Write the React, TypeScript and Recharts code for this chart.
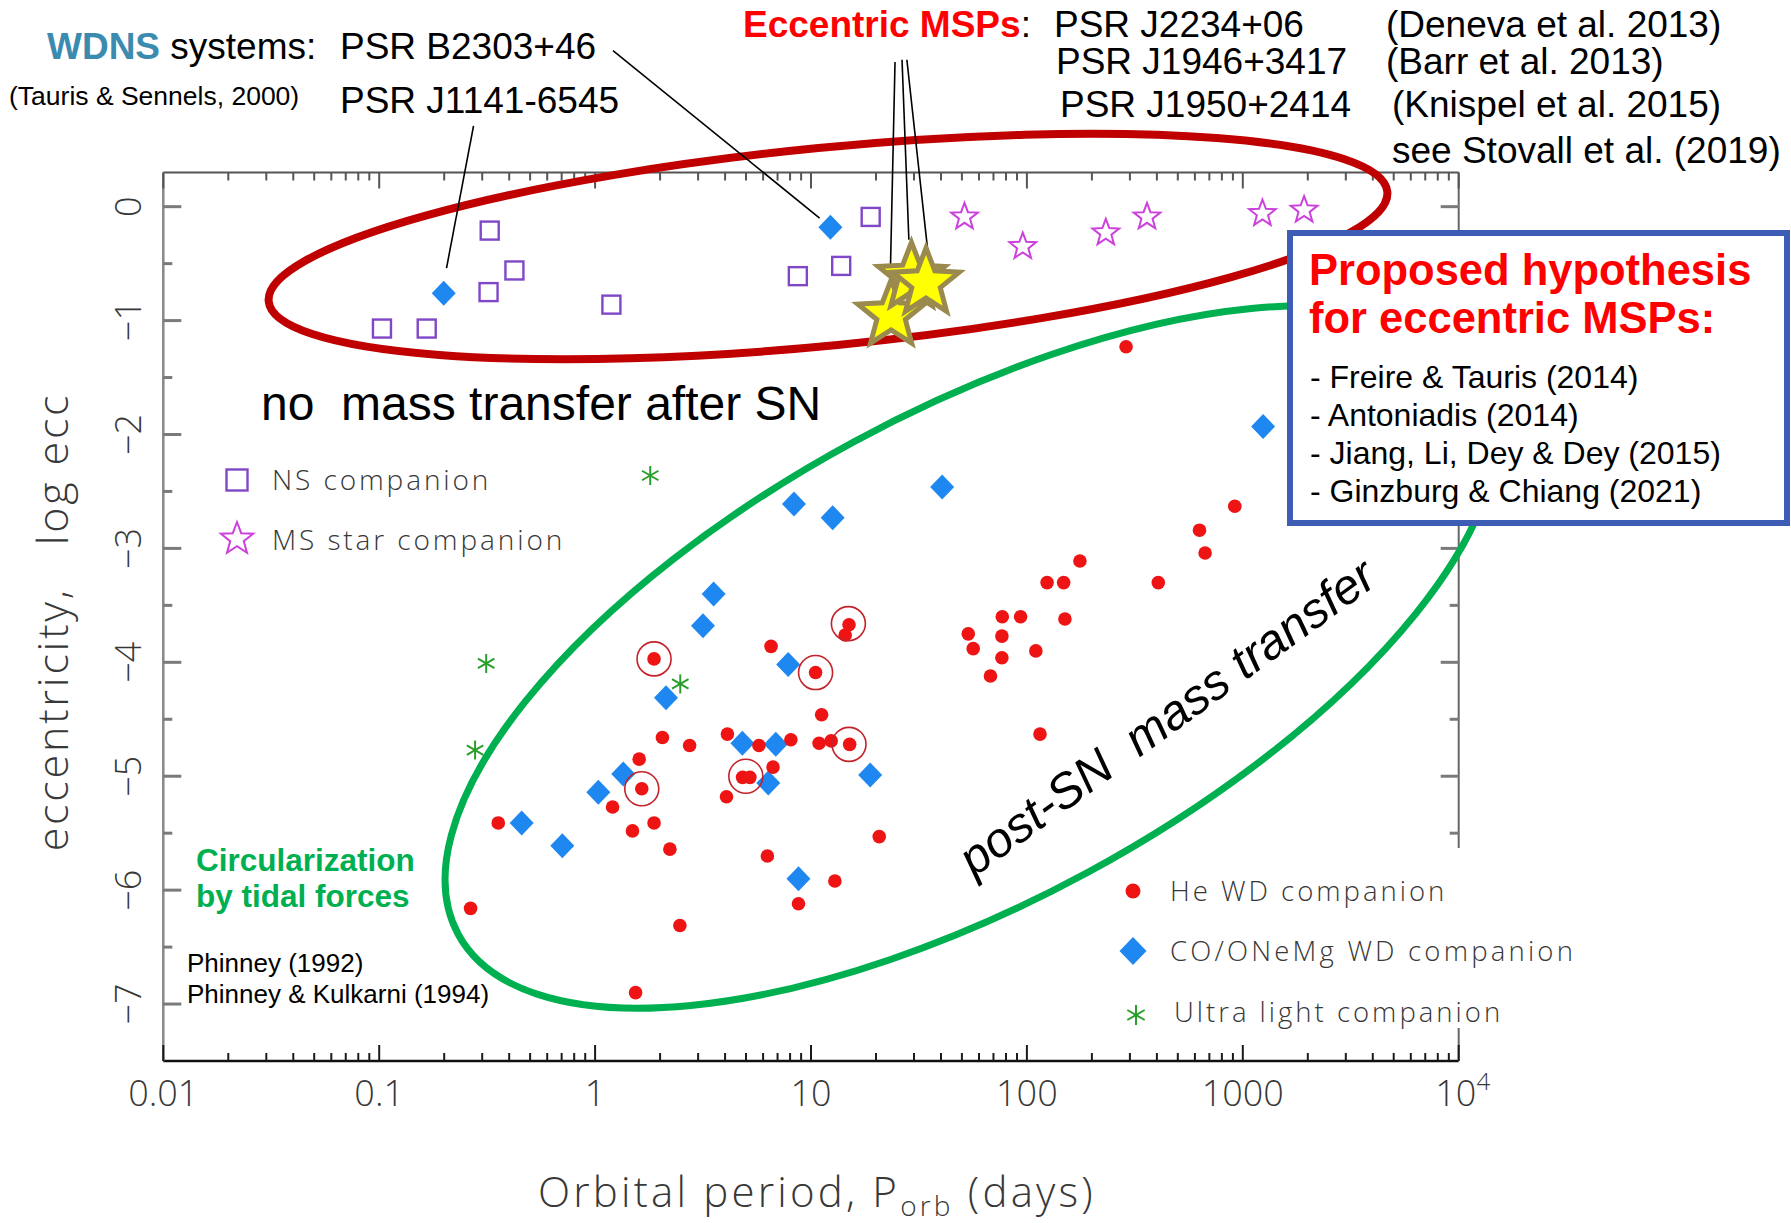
import React from 'react';
import { ScatterChart, Scatter, XAxis, YAxis, ReferenceLine } from 'recharts';

type Pt = { p: number; e: number };

// ---------- Data: orbital period (days) vs log10 eccentricity ----------
const nsCompanion: Pt[] = [
  { p: 0.325, e: -0.21 }, { p: 0.423, e: -0.56 }, { p: 0.321, e: -0.75 },
  { p: 1.19, e: -0.86 }, { p: 0.103, e: -1.07 }, { p: 0.166, e: -1.07 },
  { p: 8.69, e: -0.61 }, { p: 13.8, e: -0.52 }, { p: 18.9, e: -0.09 },
];

const msStarCompanion: Pt[] = [
  { p: 51.4, e: -0.09 }, { p: 95.7, e: -0.35 }, { p: 232, e: -0.23 },
  { p: 360, e: -0.09 }, { p: 1233, e: -0.06 }, { p: 1923, e: -0.03 },
];

const heWdCompanion: Pt[] = [
  { p: 288, e: -1.23 }, { p: 918, e: -2.63 }, { p: 630, e: -2.84 }, { p: 669, e: -3.04 },
  { p: 176, e: -3.11 }, { p: 124, e: -3.3 }, { p: 148, e: -3.3 }, { p: 406, e: -3.3 },
  { p: 76.9, e: -3.6 }, { p: 93.5, e: -3.6 }, { p: 150, e: -3.62 }, { p: 53.5, e: -3.75 },
  { p: 76.6, e: -3.77 }, { p: 56.4, e: -3.88 }, { p: 76.6, e: -3.96 }, { p: 110, e: -3.9 },
  { p: 67.8, e: -4.12 }, { p: 115, e: -4.63 }, { p: 20.7, e: -5.53 }, { p: 15.0, e: -3.67 },
  { p: 14.4, e: -3.76 }, { p: 6.53, e: -3.86 }, { p: 1.875, e: -3.97 }, { p: 10.5, e: -4.09 },
  { p: 11.2, e: -4.46 }, { p: 10.9, e: -4.71 }, { p: 12.4, e: -4.69 }, { p: 15.1, e: -4.72 },
  { p: 4.1, e: -4.63 }, { p: 5.74, e: -4.73 }, { p: 8.07, e: -4.68 }, { p: 2.74, e: -4.73 },
  { p: 2.05, e: -4.66 }, { p: 6.67, e: -4.92 }, { p: 4.82, e: -5.01 }, { p: 5.21, e: -5.01 },
  { p: 4.06, e: -5.18 }, { p: 1.6, e: -4.85 }, { p: 1.645, e: -5.11 }, { p: 1.205, e: -5.27 },
  { p: 1.875, e: -5.41 }, { p: 1.49, e: -5.48 }, { p: 2.22, e: -5.64 }, { p: 0.356, e: -5.41 },
  { p: 6.28, e: -5.7 }, { p: 12.9, e: -5.92 }, { p: 0.265, e: -6.16 }, { p: 8.75, e: -6.12 },
  { p: 2.47, e: -6.31 }, { p: 1.54, e: -6.9 },
];

// He WD systems marked with an open ring
const heWdRinged: Pt[] = [
  { p: 1.875, e: -3.97 }, { p: 14.9, e: -3.66 }, { p: 10.5, e: -4.09 },
  { p: 15.0, e: -4.72 }, { p: 4.99, e: -5.0 }, { p: 1.645, e: -5.11 },
];

const coOneMgCompanion: Pt[] = [
  { p: 0.199, e: -0.76 }, { p: 12.3, e: -0.18 }, { p: 1242, e: -1.93 }, { p: 40.5, e: -2.46 },
  { p: 8.34, e: -2.61 }, { p: 12.6, e: -2.73 }, { p: 3.54, e: -3.4 }, { p: 3.16, e: -3.68 },
  { p: 7.84, e: -4.02 }, { p: 2.13, e: -4.31 }, { p: 4.81, e: -4.71 }, { p: 6.87, e: -4.72 },
  { p: 6.34, e: -5.06 }, { p: 18.8, e: -4.99 }, { p: 1.35, e: -4.98 }, { p: 1.035, e: -5.14 },
  { p: 0.457, e: -5.41 }, { p: 0.705, e: -5.61 }, { p: 8.75, e: -5.9 },
];

const ultraLightCompanion: Pt[] = [
  { p: 1.8, e: -2.36 }, { p: 0.313, e: -4.01 }, { p: 2.48, e: -4.19 }, { p: 0.278, e: -4.77 },
];

// PSR J1950+2414, J1946+3417, J2234+06
const eccentricMsps: Pt[] = [
  { p: 23.5, e: -0.95 }, { p: 29.2, e: -0.62 }, { p: 34.1, e: -0.67 },
];

// Pointer lines from the pulsar names down to their points
const leaderLines: { from: Pt; to: Pt }[] = [
  { from: { p: 1.21, e: 1.37 }, to: { p: 10.96, e: -0.1 } },
  { from: { p: 0.2735, e: 0.71 }, to: { p: 0.205, e: -0.54 } },
  { from: { p: 24.5, e: 1.27 }, to: { p: 23.2, e: -0.76 } },
  { from: { p: 26.4, e: 1.29 }, to: { p: 28.4, e: -0.29 } },
  { from: { p: 27.8, e: 1.29 }, to: { p: 34.7, e: -0.38 } },
];

// ---------- Axes ----------
const PERIOD_DOMAIN: [number, number] = [0.01, 10000];
const ECC_DOMAIN: [number, number] = [-7.5, 0.3];
const periodDecades = [0.01, 0.1, 1, 10, 100, 1000, 10000];
const periodDecadeLabels = ['0.01', '0.1', '1', '10', '100', '1000', '10^4'];
const periodMinorSteps = [2, 3, 4, 5, 6, 7, 8, 9];
const eccMajorTicks = [0, -1, -2, -3, -4, -5, -6, -7];
const eccTickLabels = ['0', '\u22121', '\u22122', '\u22123', '\u22124', '\u22125', '\u22126', '\u22127'];
const eccMinorTicks = [-0.5, -1.5, -2.5, -3.5, -4.5, -5.5, -6.5];

const periodTicks: number[] = [];
periodDecades.forEach((d, i) => {
  periodTicks.push(d);
  if (i < periodDecades.length - 1) periodMinorSteps.forEach((m) => periodTicks.push(+(d * m).toPrecision(6)));
});
const eccTicks = [...eccMajorTicks, ...eccMinorTicks];

// ---------- Layout ----------
const WIDTH = 1791;
const HEIGHT = 1223;
const AXIS_W = 60;
const AXIS_H = 30;
const CHART_MARGIN = { top: 172.5 - AXIS_H, right: 332.3 - AXIS_W, bottom: 162 - AXIS_H, left: 163.3 - AXIS_W };

const GEO = "'Open Sans', 'DejaVu Sans', sans-serif";
const ARIAL = "'Liberation Sans', Arial, Helvetica, sans-serif";
const GEO_INK = '#383838';

const RED = '#ee1414';
const BLUE = '#1e88f0';
const PURPLE = '#8048c8';
const MAGENTA = '#cc40dc';
const GREEN_MARK = '#2a9e2a';

const decadeIndex = (v: number) => periodDecades.findIndex((d) => Math.abs(v / d - 1) < 1e-6);

function PeriodTick(props: any) {
  const { x, y, payload, side } = props;
  const i = decadeIndex(payload.value);
  const major = i >= 0;
  const len = major ? 16 : 8;
  const dir = side === 'bottom' ? -1 : 1;
  const label = major && side === 'bottom' ? periodDecadeLabels[i] : null;
  let labelEl = null;
  if (label) {
    if (label.includes('^')) {
      const [base, exp] = label.split('^');
      labelEl = (
        <text x={x + 4} y={y + 44.5} textAnchor="middle" fontFamily={GEO} fontWeight={300} fontSize={36} fill={GEO_INK}>
          {base}
          <tspan dy={-16} fontSize={24}>{exp}</tspan>
        </text>
      );
    } else {
      labelEl = (
        <text x={x} y={y + 44.5} textAnchor="middle" fontFamily={GEO} fontWeight={300} fontSize={36} fill={GEO_INK}>
          {label}
        </text>
      );
    }
  }
  return (
    <g>
      <line x1={x} y1={y} x2={x} y2={y + dir * len} stroke={side === 'bottom' ? '#1a1a1a' : '#555'} strokeWidth={2} />
      {labelEl}
    </g>
  );
}

function EccTick(props: any) {
  const { x, y, payload, side } = props;
  const i = eccMajorTicks.indexOf(payload.value);
  const major = i >= 0;
  const len = major ? 18 : 9;
  const dir = side === 'left' ? 1 : -1;
  return (
    <g>
      <line x1={x} y1={y} x2={x + dir * len} y2={y} stroke="#7a7a7a" strokeWidth={3} />
      {major && side === 'left' && (
        <text
          transform={`translate(${x - 22},${y}) rotate(-90)`}
          textAnchor="middle"
          fontFamily={GEO}
          fontWeight={300}
          fontSize={36}
          fill={GEO_INK}
        >
          {eccTickLabels[i]}
        </text>
      )}
    </g>
  );
}

// ---------- Marker shapes ----------
function starPoints(cx: number, cy: number, R: number, r: number) {
  const pts: string[] = [];
  for (let k = 0; k < 10; k++) {
    const a = -Math.PI / 2 + (k * Math.PI) / 5;
    const rad = k % 2 === 0 ? R : r;
    pts.push(`${(cx + rad * Math.cos(a)).toFixed(2)},${(cy + rad * Math.sin(a)).toFixed(2)}`);
  }
  return pts.join(' ');
}

const Dot = ({ cx, cy, r = 6.8 }: any) => <circle cx={cx} cy={cy} r={r} fill={RED} />;
const Ring = ({ cx, cy }: any) => <circle cx={cx} cy={cy} r={17} fill="none" stroke="#c4222a" strokeWidth={1.6} />;
const Diamond = ({ cx, cy, w = 12, h = 12.5 }: any) => (
  <polygon points={`${cx},${cy - h} ${cx + w},${cy} ${cx},${cy + h} ${cx - w},${cy}`} fill={BLUE} />
);
const OpenSquare = ({ cx, cy, s = 18 }: any) => (
  <rect x={cx - s / 2} y={cy - s / 2} width={s} height={s} fill="none" stroke={PURPLE} strokeWidth={2.4} />
);
const OpenStar = ({ cx, cy, R = 14 }: any) => (
  <polygon points={starPoints(cx, cy, R, R * 0.42)} fill="none" stroke={MAGENTA} strokeWidth={2} strokeLinejoin="miter" />
);
const Asterisk = ({ cx, cy, s = 9.5 }: any) => (
  <g stroke={GREEN_MARK} strokeWidth={2}>
    {[90, 30, 150].map((deg) => {
      const a = (deg * Math.PI) / 180;
      return (
        <line key={deg} x1={cx - s * Math.cos(a)} y1={cy - s * Math.sin(a)} x2={cx + s * Math.cos(a)} y2={cy + s * Math.sin(a)} />
      );
    })}
  </g>
);
const BigStar = ({ cx, cy }: any) => (
  <polygon points={starPoints(cx, cy, 35, 15)} fill="#ffff00" stroke="#9a8a4e" strokeWidth={5} strokeLinejoin="miter" />
);

function Axes({ visible }: { visible: boolean }) {
  const show = visible;
  return (
    <>
      <XAxis
        type="number" dataKey="p" scale="log" domain={PERIOD_DOMAIN} allowDataOverflow
        ticks={periodTicks} interval={0} height={AXIS_H} tickSize={0} tickMargin={0} tickLine={false}
        axisLine={show ? { stroke: '#111', strokeWidth: 2.5 } : false}
        tick={show ? (p: any) => <PeriodTick {...p} side="bottom" /> : false}
      />
      <XAxis
        xAxisId="top" orientation="top" type="number" dataKey="p" scale="log" domain={PERIOD_DOMAIN} allowDataOverflow
        ticks={periodTicks} interval={0} height={AXIS_H} tickSize={0} tickMargin={0} tickLine={false}
        axisLine={show ? { stroke: '#555', strokeWidth: 2 } : false}
        tick={show ? (p: any) => <PeriodTick {...p} side="top" /> : false}
      />
      <YAxis
        type="number" dataKey="e" domain={ECC_DOMAIN} allowDataOverflow
        ticks={eccTicks} interval={0} width={AXIS_W} tickSize={0} tickMargin={0} tickLine={false}
        axisLine={show ? { stroke: '#888', strokeWidth: 2.5 } : false}
        tick={show ? (p: any) => <EccTick {...p} side="left" /> : false}
      />
      <YAxis
        yAxisId="right" orientation="right" type="number" dataKey="e" domain={ECC_DOMAIN} allowDataOverflow
        ticks={eccTicks} interval={0} width={AXIS_W} tickSize={0} tickMargin={0} tickLine={false}
        axisLine={show ? { stroke: '#666', strokeWidth: 2 } : false}
        tick={show ? (p: any) => <EccTick {...p} side="right" /> : false}
      />
    </>
  );
}

const layer: React.CSSProperties = { position: 'absolute', left: 0, top: 0, width: WIDTH, height: HEIGHT };

export default function App() {
  const geoText = { fontFamily: GEO, fontWeight: 300, fill: GEO_INK } as const;
  return (
    <div style={{ position: 'relative', width: WIDTH, height: HEIGHT, background: '#fff', overflow: 'hidden' }}>
      <style>{'body{margin:0;background:#fff}'}</style>

      {/* Main scatter plot with frame, log ticks and all populations */}
      <div style={layer}>
        <ScatterChart width={WIDTH} height={HEIGHT} margin={CHART_MARGIN}>
          <Axes visible />
          <Scatter name="NS companion" data={nsCompanion} isAnimationActive={false} shape={(p: any) => <OpenSquare cx={p.cx} cy={p.cy} />} />
          <Scatter name="MS star companion" data={msStarCompanion} isAnimationActive={false} shape={(p: any) => <OpenStar cx={p.cx} cy={p.cy} />} />
          <Scatter name="Ultra light companion" data={ultraLightCompanion} isAnimationActive={false} shape={(p: any) => <Asterisk cx={p.cx} cy={p.cy} />} />
          <Scatter name="CO/ONeMg WD companion" data={coOneMgCompanion} isAnimationActive={false} shape={(p: any) => <Diamond cx={p.cx} cy={p.cy} />} />
          <Scatter name="He WD companion" data={heWdCompanion} isAnimationActive={false} shape={(p: any) => <Dot cx={p.cx} cy={p.cy} />} />
          <Scatter name="ringed" data={heWdRinged} isAnimationActive={false} shape={(p: any) => <Ring cx={p.cx} cy={p.cy} />} />
        </ScatterChart>
      </div>

      {/* Legends, region outlines and in-plot notes */}
      <svg style={layer} width={WIDTH} height={HEIGHT}>
        <rect x={1112} y={848} width={480} height={180} fill="#fff" />
        <Dot cx={1133} cy={891} r={7.5} />
        <text x={1170} y={901} fontSize={27.5} letterSpacing={3} {...geoText}>He WD companion</text>
        <Diamond cx={1133} cy={951} w={13.5} h={14} />
        <text x={1170} y={961} fontSize={27.5} letterSpacing={3.2} {...geoText}>CO/ONeMg WD companion</text>
        <Asterisk cx={1136} cy={1015} s={10} />
        <text x={1174} y={1022} fontSize={27.5} letterSpacing={3} {...geoText}>Ultra light companion</text>

        <OpenSquare cx={237} cy={480} s={21} />
        <text x={272} y={490} fontSize={28} letterSpacing={2.9} {...geoText}>NS companion</text>
        <OpenStar cx={237} cy={539} R={17} />
        <text x={272} y={550} fontSize={28} letterSpacing={2.9} {...geoText}>MS star companion</text>

        <ellipse cx={828} cy={246.5} rx={562} ry={99} transform="rotate(-5.6 828 246.5)" fill="none" stroke="#c00000" strokeWidth={8} />
        <ellipse cx={971} cy={657} rx={583} ry={245} transform="rotate(-28.4 971 657)" fill="none" stroke="#00b050" strokeWidth={7} />

        <text x={261} y={420} fontFamily={ARIAL} fontSize={48} fill="#000" style={{ whiteSpace: 'pre' }}>no  mass transfer after SN</text>
        <text
          transform="translate(1169,720) rotate(-36)"
          textAnchor="middle"
          dominantBaseline="middle"
          fontFamily={ARIAL}
          fontStyle="italic"
          fontSize={49}
          fill="#000"
          style={{ whiteSpace: 'pre' }}
        >
          post-SN  mass transfer
        </text>
        <text x={196} y={871} fontFamily={ARIAL} fontWeight="bold" fontSize={31.5} fill="#00b050">Circularization</text>
        <text x={196} y={907} fontFamily={ARIAL} fontWeight="bold" fontSize={31.5} fill="#00b050">by tidal forces</text>
        <text x={187} y={972} fontFamily={ARIAL} fontSize={26} fill="#000">Phinney (1992)</text>
        <text x={187} y={1003} fontFamily={ARIAL} fontSize={26} fill="#000">Phinney &amp; Kulkarni (1994)</text>

        <text x={817} y={1207} textAnchor="middle" fontSize={42} letterSpacing={3.2} {...geoText}>
          Orbital period, P
          <tspan dy={9} fontSize={28}>orb</tspan>
          <tspan dy={-9} fontSize={42}>{' (days)'}</tspan>
        </text>
        <text
          transform="translate(68,622) rotate(-90)"
          textAnchor="middle"
          fontSize={43}
          letterSpacing={2.8}
          style={{ whiteSpace: 'pre' }}
          {...geoText}
        >
          eccentricity,   log ecc
        </text>
      </svg>

      {/* Eccentric MSPs and pointer lines */}
      <div style={layer}>
        <ScatterChart width={WIDTH} height={HEIGHT} margin={CHART_MARGIN}>
          <Axes visible={false} />
          <Scatter name="Eccentric MSPs" data={eccentricMsps} isAnimationActive={false} shape={(p: any) => <BigStar cx={p.cx} cy={p.cy} />} />
          {leaderLines.map((l, i) => (
            <ReferenceLine
              key={i}
              segment={[{ x: l.from.p, y: l.from.e }, { x: l.to.p, y: l.to.e }]}
              stroke="#000"
              strokeWidth={1.6}
              ifOverflow="visible"
            />
          ))}
        </ScatterChart>
      </div>

      {/* Header labels and hypothesis box */}
      <svg style={layer} width={WIDTH} height={HEIGHT}>
        <rect x={1290} y={233} width={497} height={290} fill="#fff" stroke="#3d5db5" strokeWidth={6} />
        <text x={1309} y={285} fontFamily={ARIAL} fontWeight="bold" fontSize={43.5} fill="#ff0000">Proposed hypothesis</text>
        <text x={1309} y={333} fontFamily={ARIAL} fontWeight="bold" fontSize={43.5} fill="#ff0000">for eccentric MSPs:</text>
        <text x={1310} y={388} fontFamily={ARIAL} fontSize={32} fill="#000">- Freire &amp; Tauris (2014)</text>
        <text x={1310} y={426} fontFamily={ARIAL} fontSize={32} fill="#000">- Antoniadis (2014)</text>
        <text x={1310} y={464} fontFamily={ARIAL} fontSize={32} fill="#000">- Jiang, Li, Dey &amp; Dey (2015)</text>
        <text x={1310} y={502} fontFamily={ARIAL} fontSize={32} fill="#000">- Ginzburg &amp; Chiang (2021)</text>

        <text x={47} y={59} fontFamily={ARIAL} fontSize={37} fill="#000">
          <tspan fontWeight="bold" fill="#3b8bb0">WDNS</tspan>
          <tspan> systems:</tspan>
        </text>
        <text x={340} y={59} fontFamily={ARIAL} fontSize={37} fill="#000">PSR B2303+46</text>
        <text x={9} y={105} fontFamily={ARIAL} fontSize={26.5} fill="#000">(Tauris &amp; Sennels, 2000)</text>
        <text x={340} y={113} fontFamily={ARIAL} fontSize={37} fill="#000">PSR J1141-6545</text>

        <text x={743} y={37} fontFamily={ARIAL} fontSize={37} fill="#000">
          <tspan fontWeight="bold" fill="#ff0000">Eccentric MSPs</tspan>
          <tspan>:</tspan>
        </text>
        <text x={1054} y={37} fontFamily={ARIAL} fontSize={37} fill="#000">PSR J2234+06</text>
        <text x={1386} y={37} fontFamily={ARIAL} fontSize={37} fill="#000">(Deneva et al. 2013)</text>
        <text x={1056} y={74} fontFamily={ARIAL} fontSize={37} fill="#000">PSR J1946+3417</text>
        <text x={1386} y={74} fontFamily={ARIAL} fontSize={37} fill="#000">(Barr et al. 2013)</text>
        <text x={1060} y={117} fontFamily={ARIAL} fontSize={37} fill="#000">PSR J1950+2414</text>
        <text x={1392} y={117} fontFamily={ARIAL} fontSize={37} fill="#000">(Knispel et al. 2015)</text>
        <text x={1392} y={163} fontFamily={ARIAL} fontSize={37} fill="#000">see Stovall et al. (2019)</text>
      </svg>
    </div>
  );
}
